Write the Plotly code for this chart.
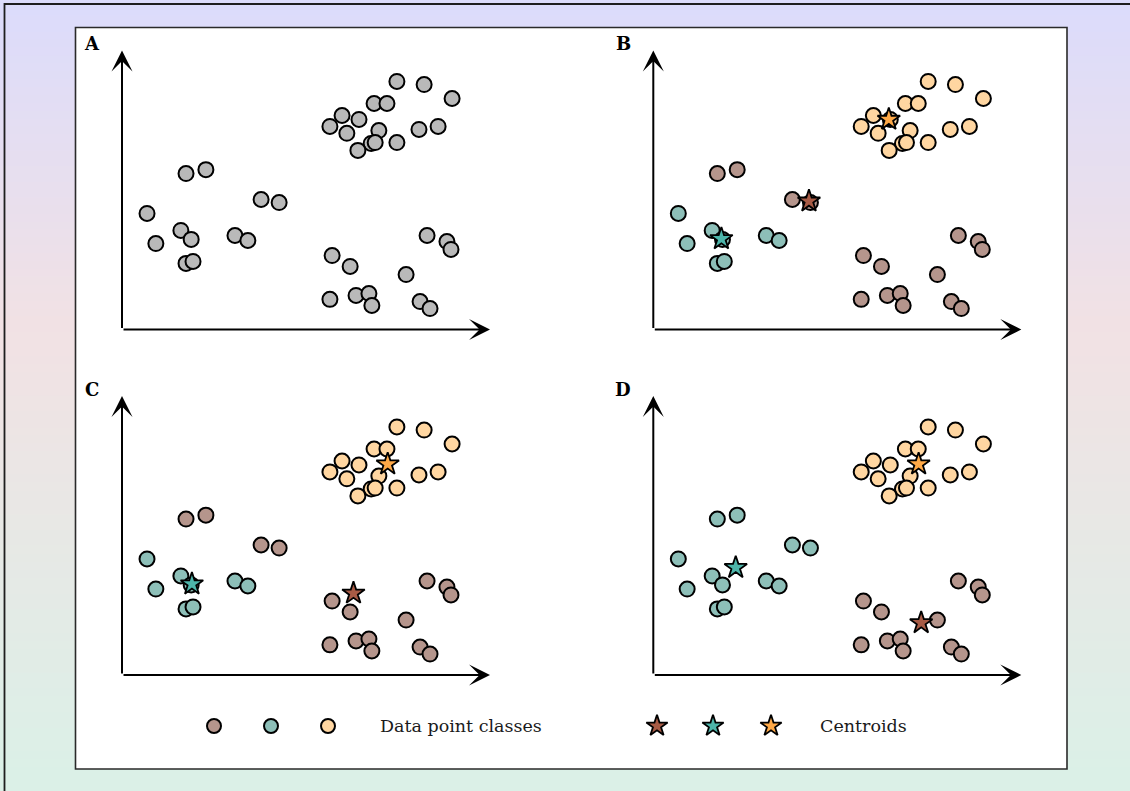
import plotly.graph_objects as go

W, H = 1130, 791

# ---------------- data (arbitrary units, axes run 0..10) ----------------
X = [7.47, 8.21, 8.97, 6.85, 7.20, 5.98, 6.44, 5.65, 6.11, 6.98, 6.77, 6.88, 6.41, 7.47, 8.07, 8.59,
     1.74, 2.28, 3.78, 4.27, 0.68, 1.60, 1.88, 0.92, 3.07, 3.42, 1.74, 1.93,
     5.71, 6.20, 5.65, 6.36, 6.71, 6.79, 7.72, 8.29, 8.83, 8.94, 8.10, 8.37]
Y = [8.89, 8.78, 8.28, 8.10, 8.10, 7.67, 7.53, 7.28, 7.03, 7.13, 6.67, 6.70, 6.42, 6.70, 7.17, 7.28,
     5.59, 5.73, 4.66, 4.55, 4.16, 3.55, 3.23, 3.08, 3.37, 3.19, 2.37, 2.44,
     2.65, 2.26, 1.08, 1.22, 1.29, 0.86, 1.97, 3.37, 3.15, 2.87, 1.00, 0.75]

# class of each point per panel (0 = brown, 1 = teal, 2 = orange)
CLS_B = [2, 2, 2, 2, 2, 2, 2, 2, 2, 2, 2, 2, 2, 2, 2, 2,
         0, 0, 0, 0, 1, 1, 1, 1, 1, 1, 1, 1,
         0, 0, 0, 0, 0, 0, 0, 0, 0, 0, 0, 0]
CLS_C = [2, 2, 2, 2, 2, 2, 2, 2, 2, 2, 2, 2, 2, 2, 2, 2,
         0, 0, 0, 0, 1, 1, 1, 1, 1, 1, 1, 1,
         0, 0, 0, 0, 0, 0, 0, 0, 0, 0, 0, 0]
CLS_D = [2, 2, 2, 2, 2, 2, 2, 2, 2, 2, 2, 2, 2, 2, 2, 2,
         1, 1, 1, 1, 1, 1, 1, 1, 1, 1, 1, 1,
         0, 0, 0, 0, 0, 0, 0, 0, 0, 0, 0, 0]

# centroids (brown, teal, orange)
CENT_B_X = [4.23, 1.85, 6.40]
CENT_B_Y = [4.60, 3.25, 7.53]
CENT_C_X = [6.29, 1.90, 7.22]
CENT_C_Y = [2.93, 3.26, 7.56]
CENT_D_X = [7.28, 2.24, 7.21]
CENT_D_Y = [1.87, 3.85, 7.56]

PANEL_LABELS = ["A", "B", "C", "D"]
LEGEND_TEXT = ["Data point classes", "Centroids"]

# ---------------- styles ----------------
GRAY = "#b9b9b9"
POINT_COLORS = ["#b5958c", "#8dbfb8", "#ffd6a1"]
STAR_COLORS = ["#a85b45", "#4db5aa", "#ffa947"]
FONT = "DejaVu Serif"

fig = go.Figure()

# background gradient bands
def lerp(a, b, t):
    return tuple(a[i] + (b[i] - a[i]) * t for i in range(3))

stops = [(0.0, (220, 220, 252)), (0.42, (242, 226, 228)), (1.0, (219, 241, 232))]
nb = 100
shapes = []
for i in range(nb):
    t = (i + 0.5) / nb
    for j in range(len(stops) - 1):
        if stops[j][0] <= t <= stops[j + 1][0]:
            tt = (t - stops[j][0]) / (stops[j + 1][0] - stops[j][0])
            c = lerp(stops[j][1], stops[j + 1][1], tt)
            break
    shapes.append(dict(type="rect", xref="paper", yref="paper", x0=0, x1=1,
                       y0=1 - (i + 1) / nb - 0.002, y1=1 - i / nb,
                       fillcolor="rgb(%d,%d,%d)" % c, line=dict(width=0), layer="below"))

def px(xp):
    return xp / W

def py(yp):
    return 1 - yp / H

# outer border (cut by image edge on right/bottom)
shapes.append(dict(type="rect", xref="paper", yref="paper", x0=px(4.5), y0=py(800), x1=px(1140), y1=py(4),
                   line=dict(color="#1e1e1e", width=1.8), fillcolor="rgba(0,0,0,0)", layer="below"))
# inner white panel
shapes.append(dict(type="rect", xref="paper", yref="paper", x0=px(75.5), y0=py(769), x1=px(1067), y1=py(27.5),
                   line=dict(color="#2a2a2a", width=1.6), fillcolor="white", layer="below"))

# panel geometry (origin pixel, unit sizes)
SX, SY = 36.8, 27.9
LO, HI = -0.6, 10.6
origins = [(122.0, 329.5), (653.3, 329.5), (122.0, 675.0), (653.3, 675.0)]

annotations = []
for k, (ox, oy) in enumerate(origins):
    n = k + 1
    xa = "xaxis" if n == 1 else "xaxis%d" % n
    ya = "yaxis" if n == 1 else "yaxis%d" % n
    xr = "x" if n == 1 else "x%d" % n
    yr = "y" if n == 1 else "y%d" % n
    fig.layout[xa] = dict(domain=[px(ox + LO * SX), px(ox + HI * SX)], range=[LO, HI], visible=False,
                          anchor=yr, fixedrange=True)
    fig.layout[ya] = dict(domain=[py(oy - LO * SY), py(oy - HI * SY)], range=[LO, HI], visible=False,
                          anchor=xr, fixedrange=True)
    # axis arrows
    for (tx, ty) in [(0, 10), (10, 0)]:
        annotations.append(dict(xref=xr, yref=yr, axref=xr, ayref=yr, x=tx, y=ty, ax=0, ay=0,
                                text="", showarrow=True, arrowhead=3, arrowsize=1.75, arrowwidth=2,
                                arrowcolor="black", standoff=0, startstandoff=0))
    # panel label
    annotations.append(dict(xref="paper", yref="paper", x=px(ox - 30), y=py(oy - 286),
                            text="<b>%s</b>" % PANEL_LABELS[k], showarrow=False,
                            font=dict(family=FONT, size=18, color="black"), xanchor="center", yanchor="middle"))

    if k == 0:
        colors = [GRAY] * len(X)
        cents = None
    else:
        cls = [CLS_B, CLS_C, CLS_D][k - 1]
        colors = [POINT_COLORS[c] for c in cls]
        cents = [(CENT_B_X, CENT_B_Y), (CENT_C_X, CENT_C_Y), (CENT_D_X, CENT_D_Y)][k - 1]
    fig.add_trace(go.Scatter(x=X, y=Y, mode="markers", xaxis=xr, yaxis=yr, cliponaxis=False,
                             marker=dict(size=15, color=colors, line=dict(color="black", width=2)),
                             showlegend=False, hoverinfo="skip"))
    if cents:
        fig.add_trace(go.Scatter(x=cents[0], y=cents[1], mode="markers", xaxis=xr, yaxis=yr, cliponaxis=False,
                                 marker=dict(symbol="star", size=17, color=STAR_COLORS,
                                             line=dict(color="black", width=1.8)),
                                 showlegend=False, hoverinfo="skip"))

# legend row (overlay axis in pixel space)
fig.layout["xaxis5"] = dict(domain=[0, 1], range=[0, W], visible=False, anchor="y5", fixedrange=True)
fig.layout["yaxis5"] = dict(domain=[0, 1], range=[H, 0], visible=False, anchor="x5", fixedrange=True)
LEG_Y = 726
fig.add_trace(go.Scatter(x=[214, 271, 328], y=[LEG_Y] * 3, mode="markers", xaxis="x5", yaxis="y5",
                         cliponaxis=False,
                         marker=dict(size=14, color=POINT_COLORS, line=dict(color="black", width=2)),
                         showlegend=False, hoverinfo="skip"))
fig.add_trace(go.Scatter(x=[657, 713, 771], y=[LEG_Y] * 3, mode="markers", xaxis="x5", yaxis="y5",
                         cliponaxis=False,
                         marker=dict(symbol="star", size=16, color=STAR_COLORS, line=dict(color="black", width=1.8)),
                         showlegend=False, hoverinfo="skip"))
annotations.append(dict(xref="paper", yref="paper", x=px(378), y=py(LEG_Y), text=LEGEND_TEXT[0], showarrow=False,
                        xanchor="left", yanchor="middle", font=dict(family=FONT, size=17.5, color="#1a1a1a")))
annotations.append(dict(xref="paper", yref="paper", x=px(818), y=py(LEG_Y), text=LEGEND_TEXT[1], showarrow=False,
                        xanchor="left", yanchor="middle", font=dict(family=FONT, size=17.5, color="#1a1a1a")))

fig.update_layout(width=W, height=H, margin=dict(l=0, r=0, t=0, b=0),
                  paper_bgcolor="white", plot_bgcolor="rgba(0,0,0,0)",
                  shapes=shapes, annotations=annotations, showlegend=False,
                  font=dict(family=FONT))

fig.write_html("out.html", config={"displayModeBar": False})
